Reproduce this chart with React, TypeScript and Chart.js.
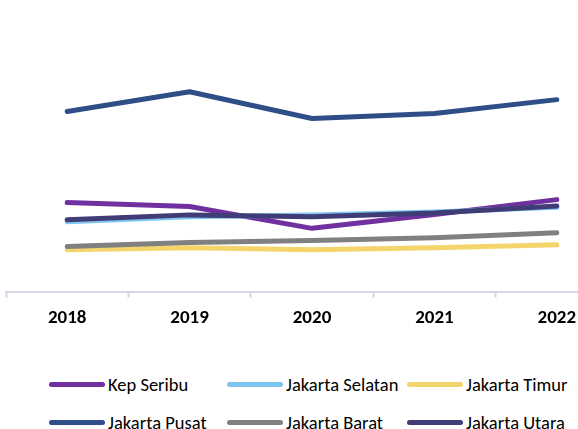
import React, { useEffect, useRef } from "react";
import { Chart, registerables } from "chart.js";

Chart.register(...registerables);

const years = ["2018", "2019", "2020", "2021", "2022"];
const kepSeribu = [45, 43, 32, 39, 46.5];
const jakartaSelatan = [35.3, 37.8, 38.8, 40.3, 42.6];
const jakartaTimur = [21.2, 22.2, 21.2, 22.2, 23.7];
const jakartaPusat = [91, 101, 87.5, 90, 97];
const jakartaBarat = [22.8, 24.8, 25.8, 27.3, 29.8];
const jakartaUtara = [36.3, 38.8, 37.8, 39.8, 43.3];

const seriesNames = [
  "Kep Seribu",
  "Jakarta Selatan",
  "Jakarta Timur",
  "Jakarta Pusat",
  "Jakarta Barat",
  "Jakarta Utara",
];
const seriesValues = [kepSeribu, jakartaSelatan, jakartaTimur, jakartaPusat, jakartaBarat, jakartaUtara];
const seriesColors = ["#7030A0", "#7EC6F0", "#F4D56C", "#2F4E88", "#808080", "#403D76"];

const FONT = "Carlito, Lato, 'Liberation Sans', sans-serif";

export default function App() {
  const canvasRef = useRef<HTMLCanvasElement | null>(null);

  useEffect(() => {
    const canvas = canvasRef.current;
    if (!canvas) return;
    const chart = new Chart(canvas, {
      type: "line",
      data: {
        labels: years,
        datasets: seriesNames.map((name, i) => ({
          label: name,
          data: seriesValues[i],
          borderColor: seriesColors[i],
          backgroundColor: seriesColors[i],
          borderWidth: 5,
          borderCapStyle: "round" as const,
          borderJoinStyle: "round" as const,
          pointRadius: 0,
          tension: 0,
          order: -i,
        })),
      },
      options: {
        responsive: false,
        animation: false,
        layout: { padding: { left: 6, right: 22, top: 14.5, bottom: 6.5 } },
        plugins: { legend: { display: false }, tooltip: { enabled: false } },
        scales: {
          x: {
            offset: true,
            grid: {
              offset: true,
              drawOnChartArea: false,
              drawTicks: true,
              tickLength: 6,
              tickWidth: 2,
              tickColor: "#D6D6E4",
            },
            border: { display: true, color: "#D6D6E4", width: 2 },
            ticks: {
              color: "#000000",
              padding: 9,
              font: { family: FONT, size: 19, weight: "bold" },
            },
          },
          y: {
            display: false,
            min: 0,
            max: 140,
          },
        },
      },
    });
    return () => chart.destroy();
  }, []);

  const cols = [49, 227, 407];
  const rows = [384, 422];

  return (
    <div
      style={{
        position: "fixed",
        left: 0,
        top: 0,
        width: 578,
        height: 429,
        overflow: "hidden",
        background: "#ffffff",
      }}
    >
      <canvas
        ref={canvasRef}
        width={640}
        height={345}
        style={{ position: "absolute", left: 0, top: 0, width: 640, height: 345 }}
      />
      {seriesNames.map((name, i) => {
        const col = i % 3;
        const row = Math.floor(i / 3);
        return (
          <div
            key={name}
            style={{
              position: "absolute",
              left: cols[col],
              top: rows[row] - 12,
              height: 24,
              display: "flex",
              alignItems: "center",
              fontFamily: FONT,
              fontSize: 18.5,
              color: "#000000",
              whiteSpace: "nowrap",
            }}
          >
            <span
              style={{
                display: "inline-block",
                width: 56,
                height: 5,
                borderRadius: 3,
                background: seriesColors[i],
                marginRight: 3,
              }}
            />
            <span>{name}</span>
          </div>
        );
      })}
    </div>
  );
}
